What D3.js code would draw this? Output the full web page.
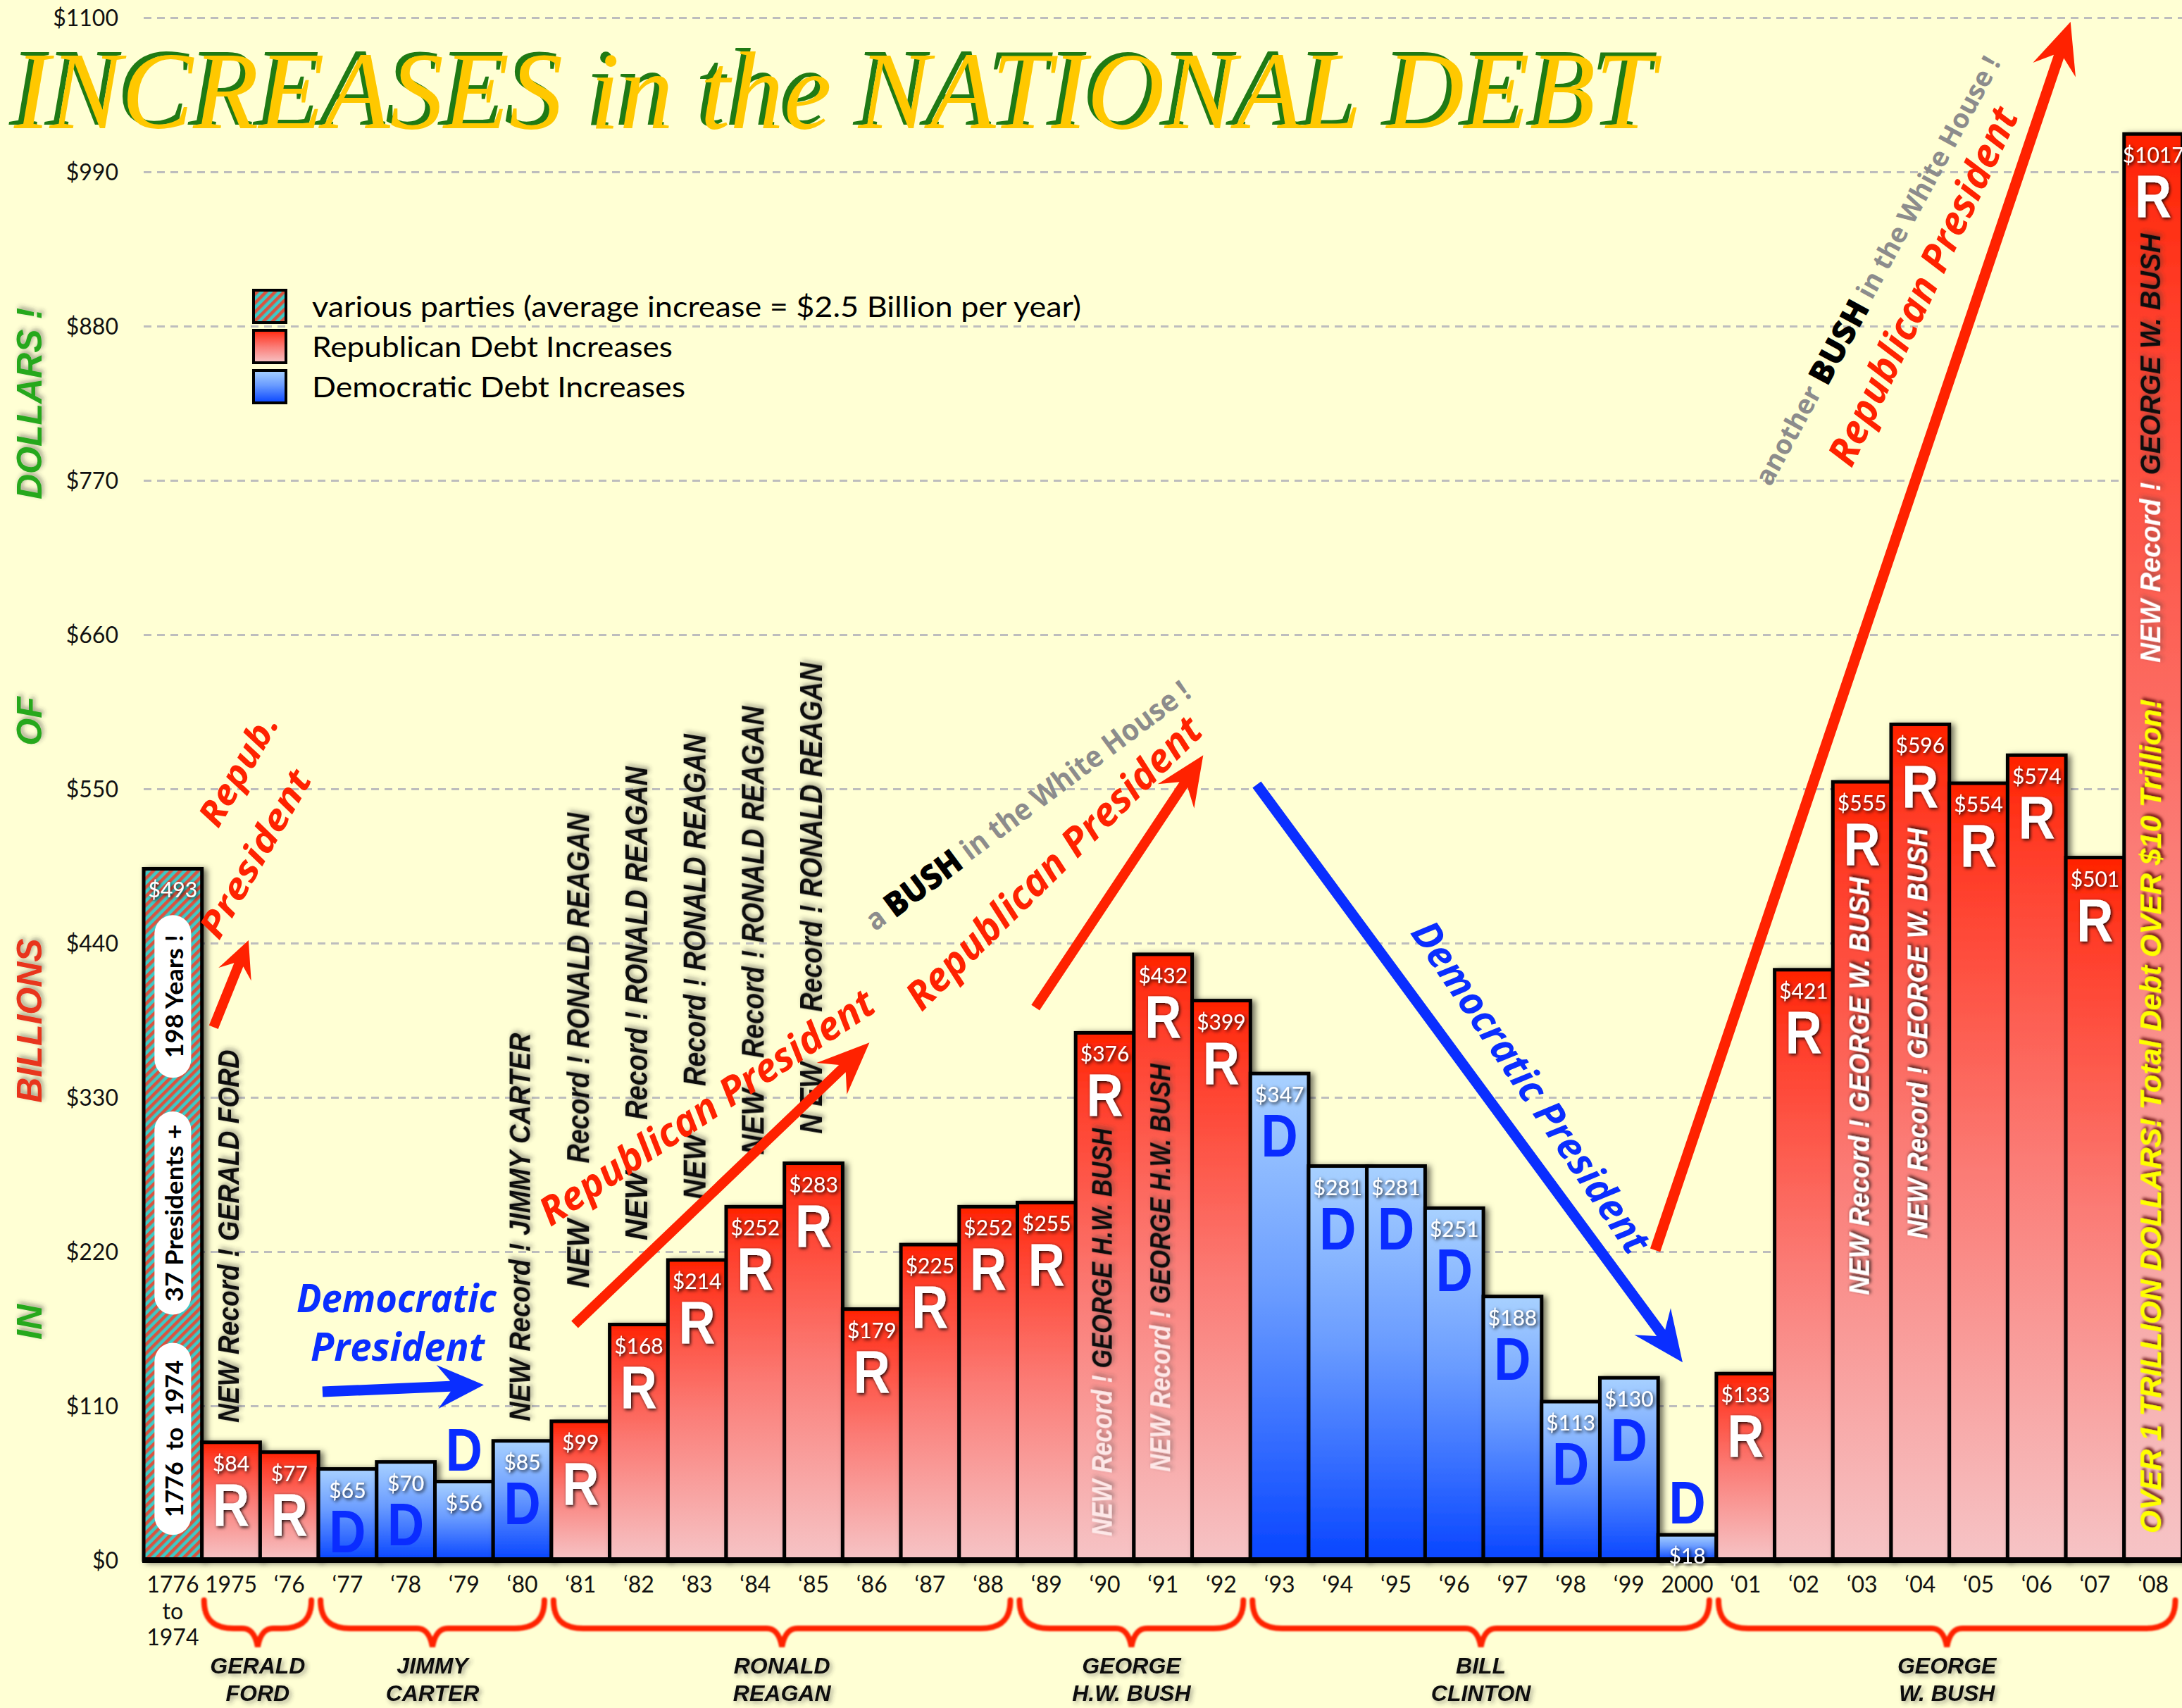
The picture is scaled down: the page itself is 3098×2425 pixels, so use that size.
<!DOCTYPE html>
<html>
<head>
<meta charset="utf-8">
<style>
  body { margin: 0; background: #ffffd4; }
  svg { display: block; }
  .ytick text { font-family: Lato, "Open Sans", sans-serif; font-size: 32px; fill: #111; }
  .xtick { font-family: Lato, "Open Sans", sans-serif; font-size: 32px; fill: #111; }
  .grid line { stroke: #bdbdbd; stroke-width: 3; stroke-dasharray: 11 8; }
  .grid .domain, .ytick .domain { display: none; }
  .val { font-family: Lato, "Open Sans", sans-serif; font-size: 30px; fill: #fff; }
  .letter { font-family: "Liberation Sans", Arial, sans-serif; font-weight: bold; font-size: 86px; }
  .vrec { font-family: "Liberation Sans", Arial, sans-serif; font-weight: bold; font-style: italic; }
  .hand { font-family: "Open Sans", sans-serif; font-weight: 700; font-style: italic; }
  .legend-text { font-family: Lato, "Open Sans", sans-serif; font-size: 40px; fill: #000; }
  .pname { font-family: "Liberation Sans", Arial, sans-serif; font-weight: bold; font-style: italic; font-size: 32px; fill: #111; }
  .axis-title { font-family: "Liberation Sans", Arial, sans-serif; font-weight: bold; font-style: italic; font-size: 50px; }
</style>
</head>
<body>
<div id="chart"></div>
<script src="https://cdnjs.cloudflare.com/ajax/libs/d3/7.8.5/d3.min.js"></script>
<script>
// data (billions of dollars added each year)
const years = ["1776-1974", "1975", "‘76", "‘77", "‘78", "‘79", "‘80", "‘81", "‘82", "‘83", "‘84", "‘85",
  "‘86", "‘87", "‘88", "‘89", "‘90", "‘91", "‘92", "‘93", "‘94", "‘95", "‘96", "‘97", "‘98", "‘99",
  "2000", "‘01", "‘02", "‘03", "‘04", "‘05", "‘06", "‘07", "‘08"];
const increases = [493, 84, 77, 65, 70, 56, 85, 99, 168, 214, 252, 283,
  179, 225, 252, 255, 376, 432, 399, 347, 281, 281, 251, 188, 113, 130,
  18, 133, 421, 555, 596, 554, 574, 501, 1017];
const parties = ["various", "R", "R", "D", "D", "D", "D", "R", "R", "R", "R", "R",
  "R", "R", "R", "R", "R", "R", "R", "D", "D", "D", "D", "D", "D", "D",
  "D", "R", "R", "R", "R", "R", "R", "R", "R"];
const yTicks = [0, 110, 220, 330, 440, 550, 660, 770, 880, 990, 1100];

const presidentNames = [["GERALD", "FORD"], ["JIMMY", "CARTER"], ["RONALD", "REAGAN"],
  ["GEORGE", "H.W. BUSH"], ["BILL", "CLINTON"], ["GEORGE", "W. BUSH"]];
const termStart = ["1975", "‘77", "‘81", "‘89", "‘93", "‘01"];
const termEnd = ["‘76", "‘80", "‘88", "‘92", "2000", "‘08"];

const legendLabels = ["various parties (average increase = $2.5 Billion per year)",
  "Republican Debt Increases", "Democratic Debt Increases"];

const W = 3098, H = 2425;
const rows = years.map((yr, i) => ({ year: yr, value: increases[i], party: parties[i], i }));

const svg = d3.select("#chart").append("svg").attr("width", W).attr("height", H);
svg.append("rect").attr("width", W).attr("height", H).attr("fill", "#ffffd4");
const defs = svg.append("defs");

// gradients + hatch
const gRed = defs.append("linearGradient").attr("id", "gRed").attr("x1", 0).attr("y1", 0).attr("x2", 0).attr("y2", 1);
[[0, "#ff2200"], [0.12, "#ff3d29"], [0.5, "#fb7b75"], [1, "#f6c4c6"]]
  .forEach(([o, c]) => gRed.append("stop").attr("offset", o).attr("stop-color", c));
const gBlue = defs.append("linearGradient").attr("id", "gBlue").attr("x1", 0).attr("y1", 0).attr("x2", 0).attr("y2", 1);
[[0, "#a8d1ff"], [0.45, "#6a9cff"], [1, "#0845ff"]]
  .forEach(([o, c]) => gBlue.append("stop").attr("offset", o).attr("stop-color", c));
const hatch = defs.append("pattern").attr("id", "hatch").attr("patternUnits", "userSpaceOnUse")
  .attr("width", 9).attr("height", 9).attr("patternTransform", "rotate(45)");
hatch.append("rect").attr("width", 9).attr("height", 9).attr("fill", "#3ccac6");
hatch.append("rect").attr("width", 4.5).attr("height", 9).attr("fill", "#d9533f");

function shadow(id, dx, dy, sd, color, op) {
  defs.append("filter").attr("id", id).attr("x", "-20%").attr("y", "-20%").attr("width", "140%").attr("height", "140%")
    .append("feDropShadow").attr("dx", dx).attr("dy", dy).attr("stdDeviation", sd)
    .attr("flood-color", color).attr("flood-opacity", op);
}
shadow("barShadow", 5, 2, 4, "#000", 0.55);
shadow("txtShadow", 2, 2, 2.5, "#000", 0.9);
shadow("glow", 3, 3, 3, "#333", 0.45);
shadow("yellowShadow", 3, 3, 2, "#5a0000", 0.9);
defs.append("filter").attr("id", "soft").append("feGaussianBlur").attr("stdDeviation", 1);

const fillFor = p => p === "R" ? "url(#gRed)" : p === "D" ? "url(#gBlue)" : "url(#hatch)";

// scales
const x = d3.scaleBand().domain(years).range([204, 204 + years.length * 82.7]).padding(0);
const y = d3.scaleLinear().domain([0, 1100]).range([2215, 25]);
const ax = i => x.range()[0] + i * x.step();
const xc = yr => x(yr) + x.bandwidth() / 2;

// grid + y labels
svg.append("g").attr("class", "grid").attr("transform", `translate(${x.range()[0]},0)`)
  .call(d3.axisLeft(y).tickValues(yTicks).tickSize(-(W - x.range()[0])).tickFormat(""));
svg.append("g").attr("class", "ytick").attr("transform", "translate(168,0)")
  .call(d3.axisLeft(y).tickValues(yTicks).tickSize(0).tickPadding(0).tickFormat(d => "$" + d))
  .selectAll("text").attr("dy", "0.35em");

// title
const titleText = "INCREASES in the NATIONAL DEBT";
[["#1f7a14", 13, 177], ["#ffc800", 20, 182]].forEach(([c, tx, ty]) => {
  svg.append("text").attr("x", tx).attr("y", ty).attr("fill", c)
    .attr("font-family", "'Liberation Serif', 'DejaVu Serif', serif").attr("font-style", "italic")
    .attr("font-size", 156).attr("textLength", 2330).attr("lengthAdjust", "spacingAndGlyphs")
    .text(titleText);
});

// rotated axis title
[["IN", 1877, "#26a81f"], ["BILLIONS", 1449, "#e8341c"], ["OF", 1024, "#26a81f"], ["DOLLARS !", 573, "#26a81f"]]
  .forEach(([t, cy, c]) => {
    svg.append("text").attr("class", "axis-title").attr("fill", c).attr("filter", "url(#glow)")
      .attr("transform", `translate(42,${cy}) rotate(-90)`)
      .attr("text-anchor", "middle").attr("dominant-baseline", "central").text(t);
  });

// legend
legendLabels.forEach((t, k) => {
  const ly = 412 + k * 57;
  svg.append("rect").attr("x", 360).attr("y", ly).attr("width", 46).attr("height", 46)
    .attr("fill", ["url(#hatch)", "url(#gRed)", "url(#gBlue)"][k])
    .attr("stroke", "#000").attr("stroke-width", 4);
  svg.append("text").attr("class", "legend-text").attr("x", 443).attr("y", ly + 23)
    .attr("dominant-baseline", "central")
    .attr("textLength", [1092, 512, 530][k]).attr("lengthAdjust", "spacingAndGlyphs").text(t);
});

// bars
svg.append("g").selectAll("rect").data(rows).join("rect")
  .attr("x", d => x(d.year)).attr("y", d => y(d.value))
  .attr("width", x.bandwidth()).attr("height", d => y(0) - y(d.value))
  .attr("fill", d => fillFor(d.party))
  .attr("stroke", "#000").attr("stroke-width", 5)
  .attr("filter", "url(#barShadow)");

// baseline
svg.append("line").attr("x1", x.range()[0] - 2).attr("x2", W).attr("y1", y(0)).attr("y2", y(0))
  .attr("stroke", "#000").attr("stroke-width", 8);

// pills on the 1776-1974 bar
[[18, 155, "1776  to  1974", 223], [175, 320, "37 Presidents +", 252], [344, 460, "198 Years !", 175]]
  .forEach(([v0, v1, t, len]) => {
    const cx = xc(years[0]);
    svg.append("rect").attr("x", cx - 26).attr("y", y(v1)).attr("width", 52).attr("height", y(v0) - y(v1))
      .attr("rx", 26).attr("fill", "#fff");
    svg.append("text").attr("transform", `translate(${cx + 1},${(y(v0) + y(v1)) / 2}) rotate(-90)`)
      .attr("text-anchor", "middle").attr("dominant-baseline", "central")
      .attr("font-family", "Lato, sans-serif").attr("font-weight", "bold").attr("font-size", 34)
      .attr("textLength", len).attr("lengthAdjust", "spacingAndGlyphs").attr("xml:space", "preserve")
      .text(t);
  });

// value labels and party letters
svg.append("g").selectAll("text").data(rows).join("text")
  .attr("class", "val").attr("text-anchor", "middle").attr("filter", "url(#txtShadow)")
  .attr("x", d => xc(d.year)).attr("y", d => y(d.value) + 41)
  .text(d => "$" + d.value);

const small = d => y(0) - y(d.value) < 120;
svg.append("g").selectAll("text").data(rows.filter(d => d.party !== "various")).join("text")
  .attr("class", "letter").attr("text-anchor", "middle")
  .attr("fill", d => d.party === "R" ? "#fff" : "#0a2cff")
  .attr("filter", d => d.party === "R" ? "url(#txtShadow)" : null)
  .attr("transform", d => `translate(${xc(d.year)},${small(d) ? y(d.value) - 16 : y(d.value) + 118}) scale(0.84,1)`)
  .text(d => d.party);

// vertical "NEW Record !" captions
function vText(yr, v0, v1, size, parts, filt) {
  const t = svg.append("text").attr("class", "vrec").attr("font-size", size)
    .attr("transform", `translate(${xc(yr) - 4},${y(v0)}) rotate(-90)`)
    .attr("dominant-baseline", "central").attr("filter", `url(#${filt || "glow"})`)
    .attr("textLength", y(v0) - y(v1)).attr("lengthAdjust", "spacingAndGlyphs");
  parts.forEach(([s, c]) => t.append("tspan").attr("fill", c).text(s));
}
vText("1975", 98, 364, 42, [["NEW Record ! GERALD FORD", "#111"]]);
vText("‘80", 99, 376, 42, [["NEW Record !  JIMMY CARTER", "#111"]]);
[["‘81", 194, 243, 283, 533, "NEW"], ["‘82", 228, 277, 314, 566, "NEW"], ["‘83", 257, 304, 338, 589, "NEW"],
 ["‘84", 289, 336, 358, 609, "NEW"], ["‘85", 304, 355, 391, 640, "N EW"]].forEach(([yr, a, b, c, d, nw]) => {
  vText(yr, a, b, 44, [[nw, "#111"]]);
  vText(yr, c, d, 44, [["Record !  RONALD REAGAN", "#111"]]);
});
vText("‘90", 17, 308, 40, [["NEW Record ! ", "#fde8e8"], ["GEORGE H.W. BUSH", "#111"]]);
vText("‘91", 63, 354, 40, [["NEW Record ! ", "#fde8e8"], ["GEORGE H.W. BUSH", "#111"]]);
vText("‘03", 189, 487, 40, [["NEW Record ! GEORGE W. BUSH", "#fff"]], "txtShadow");
vText("‘04", 229, 522, 40, [["NEW Record ! GEORGE W. BUSH", "#fff"]], "txtShadow");
vText("‘08", 640, 946, 40, [["NEW Record !  ", "#fff"], ["GEORGE W. BUSH", "#111"]]);
vText("‘08", 19, 614, 42, [["OVER 1 TRILLION DOLLARS! Total Debt OVER $10 Trillion!", "#ffff00"]], "yellowShadow");

// x tick labels
const xg = svg.append("g").attr("transform", `translate(0,${y(0)})`)
  .call(d3.axisBottom(x).tickSize(0).tickFormat(d => d === years[0] ? "" : d));
xg.select(".domain").remove();
xg.selectAll("text").attr("class", "xtick").attr("y", 46).attr("dy", 0);
const first = svg.append("text").attr("class", "xtick").attr("text-anchor", "middle");
[["1776", 2261], ["to", 2299], ["1974", 2336]].forEach(([t, ty]) =>
  first.append("tspan").attr("x", xc(years[0])).attr("y", ty).text(t));

// braces and president names
presidentNames.forEach((nm, k) => {
  const x1 = x(termStart[k]) + 3;
  const x2 = Math.min(x(termEnd[k]) + x.bandwidth() - 10, W - 8);
  const m = (x1 + x2) / 2;
  const path = `M${x1},2272 C${x1},2300 ${x1 + 14},2312 ${x1 + 42},2312 L${m - 22},2312 ` +
    `C${m - 9},2312 ${m - 3},2322 ${m},2338 C${m + 3},2322 ${m + 9},2312 ${m + 22},2312 ` +
    `L${x2 - 42},2312 C${x2 - 14},2312 ${x2},2300 ${x2},2272`;
  svg.append("path").attr("d", path).attr("fill", "none").attr("stroke", "#ff2200")
    .attr("stroke-width", 8).attr("stroke-linecap", "round").attr("filter", "url(#soft)");
  nm.forEach((line, j) => svg.append("text").attr("class", "pname").attr("filter", "url(#glow)")
    .attr("x", m).attr("y", 2376 + j * 39).attr("text-anchor", "middle").text(line));
});

// arrows
function arrow(x1, y1, x2, y2, color, w, hl, hw) {
  const dx = x2 - x1, dy = y2 - y1, L = Math.hypot(dx, dy);
  const ux = dx / L, uy = dy / L, nx = -uy, ny = ux;
  const neck = [x2 - ux * hl * 0.72, y2 - uy * hl * 0.72], barb = [x2 - ux * hl, y2 - uy * hl];
  const pts = [
    [x1 + nx * w / 2, y1 + ny * w / 2], [neck[0] + nx * w / 2, neck[1] + ny * w / 2],
    [barb[0] + nx * hw, barb[1] + ny * hw], [x2, y2],
    [barb[0] - nx * hw, barb[1] - ny * hw], [neck[0] - nx * w / 2, neck[1] - ny * w / 2],
    [x1 - nx * w / 2, y1 - ny * w / 2]];
  svg.append("path").attr("d", d3.line()(pts) + "Z").attr("fill", color);
}
const RED = "#ff2200", BLUE = "#0a2eff";
arrow(ax(1.20), y(380), ax(1.80), y(442), RED, 14, 52, 25);
arrow(ax(3.07), y(120), ax(5.84), y(125), BLUE, 15, 66, 31);
arrow(ax(7.40), y(168), ax(12.46), y(369), RED, 14, 74, 31);
arrow(ax(15.31), y(394), ax(18.19), y(574), RED, 14, 70, 31);
arrow(ax(19.11), y(553), ax(26.42), y(141), BLUE, 15, 72, 32);
arrow(ax(25.95), y(221), ax(33.08), y(1097), RED, 15, 72, 32);

// slanted hand-lettered notes
function note(i, v, angle, len, size, parts, cls) {
  const t = svg.append("text").attr("class", cls || "hand").attr("font-size", size)
    .attr("transform", `translate(${ax(i)},${y(v)}) rotate(${angle})`)
    .attr("text-anchor", "middle").attr("dominant-baseline", "central")
    .attr("textLength", len).attr("lengthAdjust", "spacingAndGlyphs");
  parts.forEach(([s, c, extra]) => {
    const ts = t.append("tspan").attr("fill", c).text(s);
    if (extra) ts.attr("font-size", extra).attr("font-weight", 900);
  });
}
note(1.61, 564, -60, 175, 50, [["Repub.", RED]]);
note(1.90, 504, -60, 266, 50, [["President", RED]]);
note(4.34, 188, 0, 284, 56, [["Democratic", BLUE]]);
note(4.36, 153, 0, 247, 56, [["President", BLUE]]);
note(9.65, 324, -33.5, 558, 56, [["Republican President", RED]]);
note(15.60, 498, -44.6, 565, 56, [["Republican President", RED]]);
note(15.16, 539, -36.6, 562, 42, [["a ", "#8c8c8c"], ["BUSH", "#000", 48], [" in the White House !", "#8c8c8c"]], "bushnote");
note(23.84, 338, 55.9, 556, 56, [["Democratic President", BLUE]]);
note(30.52, 909, -64.6, 555, 56, [["Republican President", RED]]);
note(29.75, 920, -61.5, 686, 38, [["another ", "#8c8c8c"], ["BUSH", "#000", 46], [" in the White House !", "#8c8c8c"]], "bushnote");
svg.selectAll(".bushnote").attr("font-family", "'Open Sans', sans-serif").attr("font-weight", 700);
</script>
</body>
</html>
